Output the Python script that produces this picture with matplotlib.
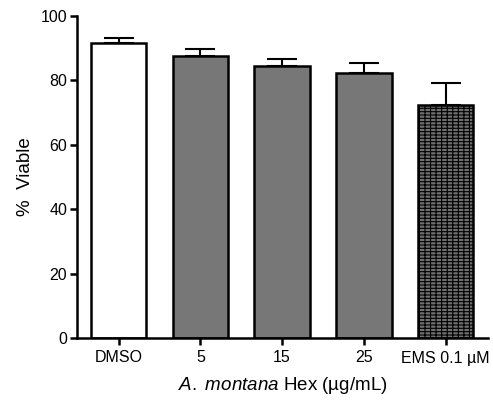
import matplotlib
matplotlib.use('Agg')
import matplotlib.pyplot as plt

plt.rcParams['font.family'] = ['Liberation Sans', 'DejaVu Sans']
plt.rcParams['mathtext.fontset'] = 'custom'
plt.rcParams['mathtext.rm'] = 'Liberation Sans'
plt.rcParams['mathtext.it'] = 'Liberation Sans:italic'
plt.rcParams['hatch.linewidth'] = 0.8

categories = ['DMSO', '5', '15', '25', 'EMS 0.1 µM']
viable = [91.6, 87.6, 84.5, 82.3, 72.4]
err = [1.6, 2.1, 2.1, 3.1, 6.9]
colors = ['white', '#777777', '#777777', '#777777', '#707070']
hatches = ['', '', '', '', '-----|||']

fig = plt.figure(figsize=(4.93, 4.0), dpi=100)
ax = fig.add_axes([0.156, 0.155, 0.834, 0.805])

x = range(len(categories))
bars = ax.bar(x, viable, width=0.68, color=colors, edgecolor='black',
              linewidth=1.8, zorder=2)
for b, h in zip(bars, hatches):
    b.set_hatch(h)
ax.errorbar(x, viable, yerr=[[0] * len(err), err], fmt='none', ecolor='black',
            elinewidth=1.5, capsize=10.5, capthick=1.5, zorder=1)

ax.set_xlim(-0.51, 4.52)
ax.set_ylim(0, 100)
ax.set_yticks([0, 20, 40, 60, 80, 100])
ax.set_xticks(list(x))
ax.set_xticklabels(categories)
ax.tick_params(axis='both', labelsize=11.5, width=1.8, length=5, color='black')
ax.tick_params(axis='x', pad=4)
ax.tick_params(axis='y', pad=2)

for s in ['top', 'right']:
    ax.spines[s].set_visible(False)
for s in ['left', 'bottom']:
    ax.spines[s].set_linewidth(1.8)

ax.set_ylabel('%  Viable', fontsize=13.5, labelpad=5)
ax.set_xlabel(r'$\it{A.\ montana}$ Hex (µg/mL)', fontsize=13.5, labelpad=7)

fig.savefig('out.png', dpi=100)
